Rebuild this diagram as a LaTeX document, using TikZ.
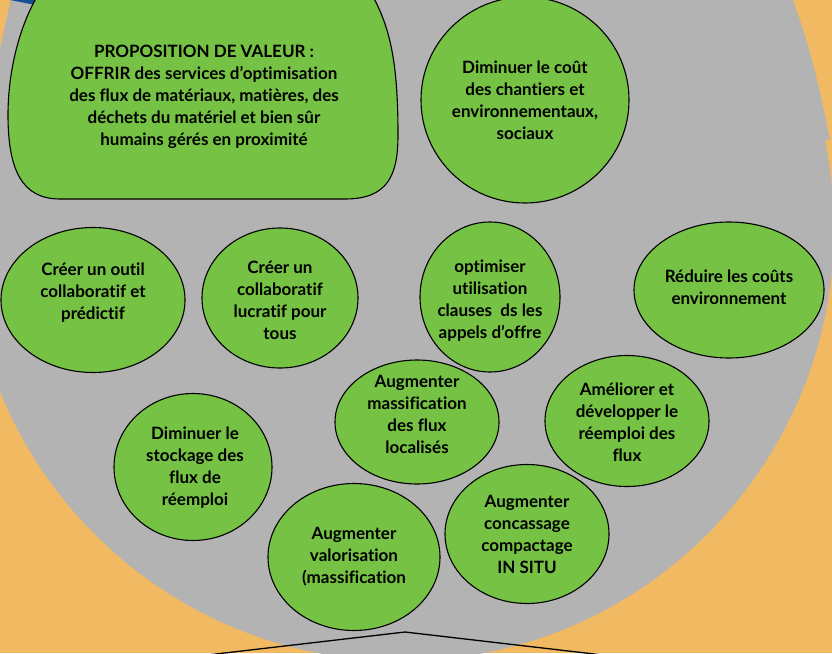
\documentclass[tikz,border=0pt]{standalone}
\usepackage{fontspec}
\setmainfont{Lato}[Ligatures={NoCommon}]
\usepackage{tikz}
\usetikzlibrary{shapes.geometric, positioning, calc}
\definecolor{fondorange}{RGB}{240,185,98}
\definecolor{fondgris}{RGB}{179,179,179}
\definecolor{vert}{RGB}{118,194,68}
\definecolor{bleu}{RGB}{20,80,150}

\begin{document}
\begin{tikzpicture}[
    x=1pt, y=-1pt,
    every node/.style={font=\bfseries\fontsize{17}{22}\selectfont, align=center},
    goal/.style={ellipse, draw, line width=1.1pt, fill=vert, inner sep=0pt},
    lien/.style={draw, line width=1.3pt}
]
\useasboundingbox (0,0) rectangle (832,653);
\begin{scope}
\clip (0,0) rectangle (832,653);
\fill[fondorange] (0,0) rectangle (832,653);
% grand disque gris
\fill[fondgris] (401,228) circle[radius=433];
\fill[fondgris] (12,-5) -- (791,-5) .. controls (808,40) and (818,80) .. (830,140)
    -- (-15,140) .. controls (-8,80) and (4,30) .. (12,-5) -- cycle;
\fill[bleu] (10,0) -- (36,0) -- (35,5) -- cycle;
% proposition de valeur
\filldraw[fill=vert, line width=1.1pt] (60,199) -- (345,199)
    .. controls (388,199) and (398,175) .. (398,135)
    .. controls (398,70) and (392,30) .. (372,-5)
    .. controls (330,-60) and (80,-60) .. (38,-5)
    .. controls (20,25) and (8,70) .. (8,115)
    .. controls (8,170) and (22,199) .. (60,199) -- cycle;
\node (prop) at (204,97) {PROPOSITION DE VALEUR :\\OFFRIR des services d'optimisation\\des flux de matériaux, matières, des\\déchets du matériel et bien sûr\\humains gérés en proximité};

\node[goal, minimum width=208, minimum height=206] (cout) at (525,100) {};
\node (coutT) at (525,100) {Diminuer le coût\\des chantiers et\\environnementaux,\\sociaux};

\node[goal, minimum width=184, minimum height=145] (outil) at (93,300) {};
\node (outilT) at (93,293) {Créer un outil\\collaboratif et\\prédictif};

\node[goal, minimum width=156, minimum height=140] (lucratif) at (280,298) {};
\node (lucratifT) at (280,300) {Créer un\\collaboratif\\lucratif pour\\tous};

\node[goal, minimum width=140, minimum height=150] (clauses) at (490,297) {};
\node (clausesT) at (490,301) {optimiser\\utilisation\\clauses~ ds les\\appels d'offre};

\node[goal, minimum width=190, minimum height=136] (reduire) at (729,290) {};
\node (reduireT) at (729,287) {Réduire les coûts\\environnement};

\node[goal, minimum width=164, minimum height=124] (massif) at (417,422) {};
\node (massifT) at (417,414) {Augmenter\\massification\\des flux\\localisés};

\node[goal, minimum width=164, minimum height=131] (reemploi) at (627,421) {};
\node (reemploiT) at (627,422) {Améliorer et\\développer le\\réemploi des\\flux};

\node[goal, minimum width=158, minimum height=147] (stockage) at (193,467) {};
\node (stockageT) at (195,468) {Diminuer le\\stockage des\\flux de\\réemploi};

\node[goal, minimum width=172, minimum height=147] (valor) at (354,557) {};
\node (valorT) at (354,557) {Augmenter\\valorisation\\(massification};

\node[goal, minimum width=164, minimum height=139] (concass) at (527,534) {};
\node (concassT) at (527,534) {Augmenter\\concassage\\compactage\\IN SITU};

% lignes du bas
\coordinate (sommet) at (405,632);
\coordinate (gauche) at (190,657);
\coordinate (droite) at (620,657);
\draw[lien] (gauche) -- (sommet) -- (droite);
\end{scope}
\end{tikzpicture}
\end{document}
